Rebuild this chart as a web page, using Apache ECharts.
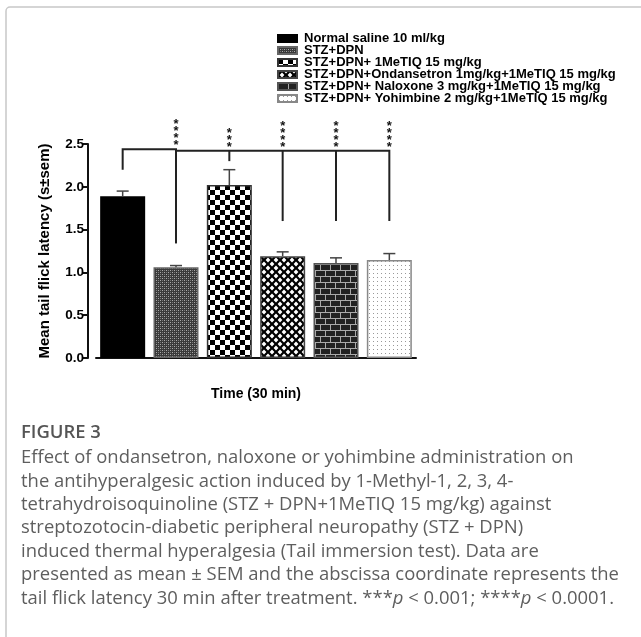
<!DOCTYPE html>
<html>
<head>
<meta charset="utf-8">
<script src="https://cdn.jsdelivr.net/npm/echarts@6/dist/echarts.min.js"></script>
<style>
  html, body { margin: 0; padding: 0; background: #fff; }
  #chart { width: 641px; height: 637px; }
</style>
</head>
<body>
<div id="chart"></div>
<script>
const chart = echarts.init(document.getElementById('chart'));

// groups
const groups = ['Normal saline 10 ml/kg', 'STZ+DPN', 'STZ+DPN+ 1MeTIQ 15 mg/kg',
    'STZ+DPN+Ondansetron 1mg/kg+1MeTIQ 15 mg/kg', 'STZ+DPN+ Naloxone 3 mg/kg+1MeTIQ 15 mg/kg',
    'STZ+DPN+ Yohimbine 2 mg/kg+1MeTIQ 15 mg/kg'];
const means = [1.89, 1.06, 2.02, 1.19, 1.11, 1.145];
const sems = [0.06, 0.02, 0.18, 0.05, 0.06, 0.075];
const yTicks = [0, 0.5, 1.0, 1.5, 2.0, 2.5];

// significance brackets (category position, value)
const bracketLines = [
    [[0, 2.2], [0, 2.44], [1, 2.44], [1, 1.34]],
    [[1.09, 1.34], [1.09, 2.42], [5, 2.42], [5, 1.6]],
    [[2, 2.42], [2, 2.3]],
    [[3, 2.42], [3, 1.6]],
    [[4, 2.42], [4, 1.6]]
];
const starX = [1, 2, 3, 4, 5];
const starBase = [2.48, 2.45, 2.45, 2.45, 2.45];
const starText = ['****', '***', '****', '****', '****'];

const caption = [
    'Effect of ondansetron, naloxone or yohimbine administration on',
    'the antihyperalgesic action induced by 1-Methyl-1, 2, 3, 4-',
    'tetrahydroisoquinoline (STZ + DPN+1MeTIQ 15 mg/kg) against',
    'streptozotocin-diabetic peripheral neuropathy (STZ + DPN)',
    'induced thermal hyperalgesia (Tail immersion test). Data are',
    'presented as mean ± SEM and the abscissa coordinate represents the',
    'tail flick latency 30 min after treatment. ***{i|p} < 0.001; ****{i|p} < 0.0001.'
];

// caption font size fitted to the widest line
const capFamily = '"Open Sans"';
const mctx = document.createElement('canvas').getContext('2d');
mctx.font = '16px ' + capFamily;
const capSize = +(16 * 598 / mctx.measureText(caption[5]).width).toFixed(2);

// fill patterns
function pattern(w, h, draw) {
    const c = document.createElement('canvas');
    c.width = w;
    c.height = h;
    draw(c.getContext('2d'));
    return { image: c, repeat: 'repeat' };
}
const fills = [
    '#000',
    pattern(4, 4, g => {
        g.fillStyle = '#3a3a3a'; g.fillRect(0, 0, 4, 4);
        g.fillStyle = '#aaa'; g.fillRect(0, 0, 1, 1); g.fillRect(2, 2, 1, 1);
        g.fillStyle = '#777'; g.fillRect(2, 0, 1, 1); g.fillRect(0, 2, 1, 1);
    }),
    pattern(10, 10, g => {
        g.fillStyle = '#fff'; g.fillRect(0, 0, 10, 10);
        g.fillStyle = '#000'; g.fillRect(0, 0, 5, 5); g.fillRect(5, 5, 5, 5);
    }),
    pattern(8, 8, g => {
        g.fillStyle = '#000'; g.fillRect(0, 0, 8, 8);
        g.fillStyle = '#fff';
        [[4, 4], [0, 0], [8, 0], [0, 8], [8, 8]].forEach(p => {
            g.beginPath();
            g.moveTo(p[0], p[1] - 2.4); g.lineTo(p[0] + 2.4, p[1]);
            g.lineTo(p[0], p[1] + 2.4); g.lineTo(p[0] - 2.4, p[1]);
            g.closePath(); g.fill();
        });
    }),
    pattern(10, 12, g => {
        g.fillStyle = '#222'; g.fillRect(0, 0, 10, 12);
        g.fillStyle = '#aaa';
        g.fillRect(0, 0, 10, 1); g.fillRect(0, 6, 10, 1);
        g.fillRect(0, 0, 1, 6); g.fillRect(5, 6, 1, 6);
    }),
    pattern(4, 4, g => {
        g.fillStyle = '#fff'; g.fillRect(0, 0, 4, 4);
        g.fillStyle = '#999'; g.fillRect(1, 1, 1, 1);
    })
];
const borders = ['#000', '#666', '#333', '#444', '#555', '#888'];

const barSeries = groups.map((n, i) => ({
    name: n,
    type: 'bar',
    data: means.map((m, j) => (j === i ? m : '-')),
    barWidth: 45,
    barGap: '-100%',
    itemStyle: { color: fills[i], borderColor: borders[i], borderWidth: 1.5 },
    emphasis: { disabled: true }
}));

const errorSeries = {
    type: 'custom',
    z: 5,
    data: means.map((m, i) => [i, m, m + sems[i]]),
    renderItem: function (params, api) {
        const lo = api.coord([api.value(0), api.value(1)]);
        const hi = api.coord([api.value(0), api.value(2)]);
        const s = { stroke: '#444', lineWidth: 1.5 };
        return {
            type: 'group',
            children: [
                { type: 'line', shape: { x1: lo[0], y1: lo[1], x2: hi[0], y2: hi[1] }, style: s },
                { type: 'line', shape: { x1: hi[0] - 6, y1: hi[1], x2: hi[0] + 6, y2: hi[1] }, style: s }
            ]
        };
    }
};

const bracketSeries = {
    type: 'custom',
    z: 6,
    data: bracketLines.map((b, i) => [i]),
    renderItem: function (params, api) {
        const pts = bracketLines[params.dataIndex].map(p => api.coord(p));
        return {
            type: 'polyline',
            shape: { points: pts },
            style: { fill: 'none', stroke: '#222', lineWidth: 2 }
        };
    }
};

const starSeries = {
    type: 'custom',
    z: 6,
    data: starX.map((x, i) => [x, starBase[i]]),
    renderItem: function (params, api) {
        const p = api.coord([api.value(0), api.value(1)]);
        return {
            type: 'text',
            x: p[0],
            y: p[1] + 3,
            style: {
                text: starText[params.dataIndex].split('').join('\n'),
                align: 'center',
                verticalAlign: 'bottom',
                font: 'bold 13px "Liberation Sans", Arial',
                lineHeight: 7,
                fill: '#111'
            }
        };
    }
};

const graphics = [{
    type: 'rect',
    shape: { x: 6, y: 7, width: 700, height: 700, r: 4 },
    style: { fill: 'none', stroke: '#c8c8c8', lineWidth: 1.5 },
    silent: true
}, {
    type: 'text',
    left: 21,
    top: 424,
    style: { text: 'FIGURE 3', font: '600 ' + capSize + 'px ' + capFamily, fill: '#555' }
}];
caption.forEach((t, i) => {
    graphics.push({
        type: 'text',
        left: 21,
        top: 449 + i * 23.4,
        style: {
            text: t,
            font: capSize + 'px ' + capFamily,
            fill: '#5e5e5e',
            rich: {
                i: { font: 'italic ' + capSize + 'px ' + capFamily, fill: '#5e5e5e' }
            }
        }
    });
});

const option = {
    backgroundColor: '#fff',
    animation: false,
    textStyle: { fontFamily: '"Liberation Sans", Arial' },
    grid: { left: 96, right: 225, top: 144, bottom: 279 },
    legend: {
        orient: 'vertical',
        left: 272,
        top: 27,
        icon: 'rect',
        itemWidth: 19,
        itemHeight: 7,
        itemGap: -1,
        selectedMode: false,
        data: groups,
        textStyle: {
            fontSize: 13,
            fontWeight: 'bold',
            color: '#000',
            lineHeight: 12,
            height: 12,
            padding: [0, 0, 0, 2]
        }
    },
    xAxis: {
        type: 'category',
        data: groups,
        offset: 7,
        name: 'Time (30 min)',
        nameLocation: 'middle',
        nameGap: 22,
        nameTextStyle: { fontSize: 14, fontWeight: 'bold', color: '#000' },
        axisLine: { lineStyle: { color: '#111', width: 2 } },
        axisTick: { alignWithLabel: true, length: 5, lineStyle: { color: '#111', width: 2 } },
        axisLabel: { show: false },
        splitLine: { show: false }
    },
    yAxis: {
        type: 'value',
        min: 0,
        max: 2.5,
        interval: 0.5,
        offset: 8,
        name: 'Mean tail flick latency (s±sem)',
        nameLocation: 'middle',
        nameGap: 36,
        nameTextStyle: { fontSize: 15, fontWeight: 'bold', color: '#000' },
        axisLine: { show: true, lineStyle: { color: '#111', width: 2 } },
        axisTick: { show: true, length: 5, lineStyle: { color: '#111', width: 2 } },
        axisLabel: {
            fontSize: 13.5,
            fontWeight: 'bold',
            color: '#000',
            margin: 4,
            formatter: v => yTicks.indexOf(v) >= 0 ? v.toFixed(1) : ''
        },
        splitLine: { show: false }
    },
    graphic: graphics,
    series: barSeries.concat([errorSeries, bracketSeries, starSeries])
};

chart.setOption(option);
</script>
</body>
</html>
